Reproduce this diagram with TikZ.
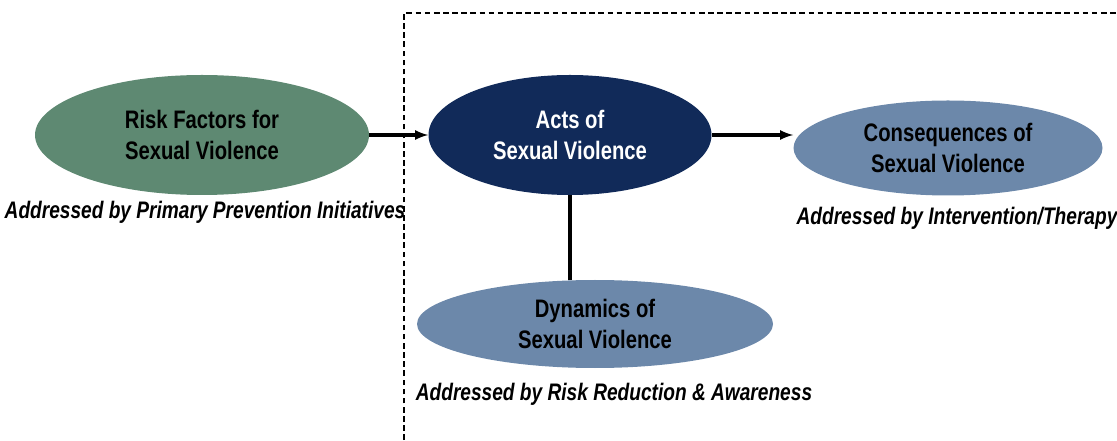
\documentclass[tikz,border=0pt]{standalone}
\usepackage{fontspec}
\setmainfont{Liberation Sans}[FakeStretch=0.8]
\usetikzlibrary{shapes.geometric,positioning,arrows}
\definecolor{riskgreen}{RGB}{94,137,114}
\definecolor{actsnavy}{RGB}{17,42,89}
\definecolor{steelblue}{RGB}{108,136,170}
\tikzset{
  oval/.style={
    ellipse,
    draw=none,
    inner sep=0pt,
    align=center,
    font=\fontsize{18}{21.5}\selectfont\bfseries
  },
  addressed/.style={font=\fontsize{17}{20}\selectfont\bfseries\itshape},
  link/.style={-latex,line width=2.2pt}
}

\begin{document}
\begin{tikzpicture}
  \useasboundingbox (0,0) rectangle (27.925,11);
  \draw[dash pattern=on 4pt off 2.5pt,line width=0.9pt] (10.1,0) -- (10.1,10.675) -- (27.925,10.675);

  \node (risk) [oval,fill=riskgreen,minimum width=8.35cm,minimum height=3cm] at(5.05,7.625) {Risk Factors for\\Sexual Violence};
  \node (acts) [oval,fill=actsnavy,text=white,minimum width=7.075cm,minimum height=3cm] at(14.25,7.625) {Acts of\\Sexual Violence};
  \node (cons) [oval,fill=steelblue,minimum width=7.725cm,minimum height=2.375cm] at(23.7,7.3) {Consequences of\\Sexual Violence};
  \node (dyn) [oval,fill=steelblue,minimum width=8.9cm,minimum height=2.2cm] at(14.875,2.9) {Dynamics of\\Sexual Violence};

  \node (risk_label) [addressed] at(5.125,5.7) {Addressed by Primary Prevention Initiatives};
  \node (cons_label) [addressed] at(23.925,5.55) {Addressed by Intervention/Therapy};
  \node (dyn_label) [addressed] at(15.35,1.15) {Addressed by Risk Reduction \& Awareness};

  \draw[link] (risk.east) -- (acts.west);
  \draw[link] (acts.east) -- (acts.east -| cons.west);
  \draw[line width=2.2pt] (acts.south) -- (acts.south |- dyn.north);
\end{tikzpicture}
\end{document}
